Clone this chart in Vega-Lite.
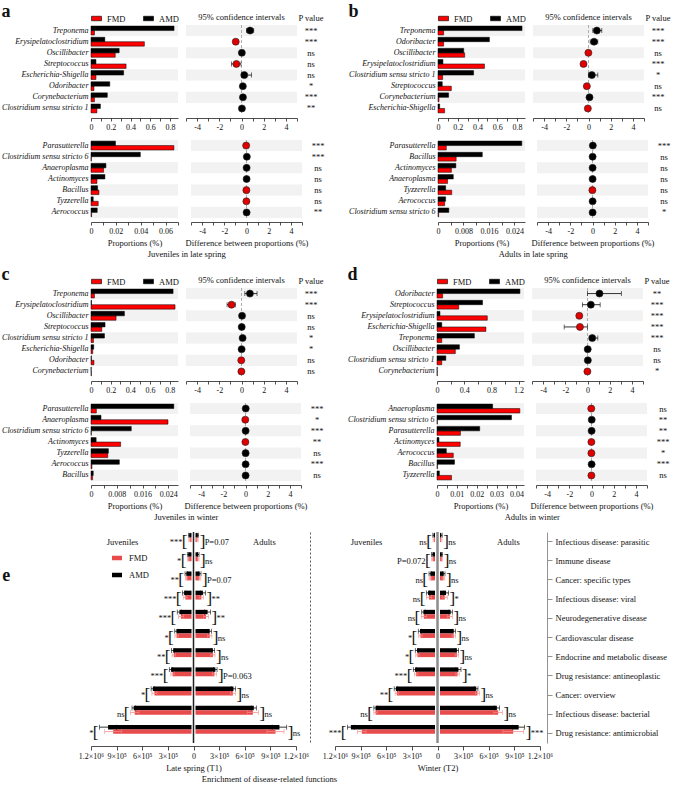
{
"$schema":"https://vega.github.io/schema/vega-lite/v6.json",
"padding":{"left":1,"top":3,"right":0,"bottom":0},
"background":"white",
"config":{
 "font":"Liberation Serif",
 "view":{"stroke":null},
 "axis":{"labelFont":"Liberation Serif","titleFont":"Liberation Serif","labelFontSize":8,"titleFontSize":8.5,"titleFontWeight":"normal","labelColor":"#111111","titleColor":"#111111","domainColor":"#222222","tickColor":"#222222","tickSize":3,"labelPadding":2,"titlePadding":3,"grid":false,"domainWidth":0.8,"tickWidth":0.8,"labelOverlap":false,"labelFlush":false},
 "legend":{"labelFont":"Liberation Serif","labelFontSize":8.5,"labelColor":"#111111"},
 "title":{"font":"Liberation Serif","fontSize":8.5,"fontWeight":"normal","color":"#111111"},
 "text":{"font":"Liberation Serif","color":"#111111"}
},
"datasets":{
"g":[
{"p":"a","s":"t","genus":"Treponema","FMD":0.035,"AMD":0.84,"d":0.77,"lo":0.46,"hi":1.1,"sig":"***"},
{"p":"a","s":"t","genus":"Erysipelatoclostridium","FMD":0.54,"AMD":0.14,"d":-0.52,"lo":-0.72,"hi":-0.35,"sig":"***"},
{"p":"a","s":"t","genus":"Oscillibacter","FMD":0.245,"AMD":0.285,"d":0.03,"sig":"ns"},
{"p":"a","s":"t","genus":"Streptococcus","FMD":0.355,"AMD":0.05,"d":-0.46,"lo":-0.9,"hi":-0.05,"sig":"ns"},
{"p":"a","s":"t","genus":"Escherichia-Shigella","FMD":0.05,"AMD":0.33,"d":0.25,"lo":0.0,"hi":0.9,"sig":"ns"},
{"p":"a","s":"t","genus":"Odoribacter","FMD":0.03,"AMD":0.19,"d":0.12,"sig":"*"},
{"p":"a","s":"t","genus":"Corynebacterium","FMD":0.035,"AMD":0.165,"d":0.13,"sig":"***"},
{"p":"a","s":"t","genus":"Clostridium sensu stricto 1","FMD":0.06,"AMD":0.095,"d":0.04,"sig":"**"},
{"p":"a","s":"b","genus":"Parasutterella","FMD":0.0667,"AMD":0.0197,"d":-0.03,"sig":"***"},
{"p":"a","s":"b","genus":"Clostridium sensu stricto 6","FMD":0.0003,"AMD":0.0397,"d":0.03,"sig":"***"},
{"p":"a","s":"b","genus":"Anaeroplasma","FMD":0.0101,"AMD":0.012,"d":0.01,"sig":"ns"},
{"p":"a","s":"b","genus":"Actinomyces","FMD":0.0048,"AMD":0.0112,"d":0.01,"sig":"ns"},
{"p":"a","s":"b","genus":"Bacillus","FMD":0.0064,"AMD":0.0053,"d":-0.01,"sig":"ns"},
{"p":"a","s":"b","genus":"Tyzzerella","FMD":0.0058,"AMD":0.0018,"d":-0.01,"sig":"ns"},
{"p":"a","s":"b","genus":"Aerococcus","FMD":0.0005,"AMD":0.005,"d":0.01,"sig":"**"},
{"p":"b","s":"t","genus":"Treponema","FMD":0.057,"AMD":0.85,"d":0.75,"lo":0.39,"hi":1.2,"sig":"***"},
{"p":"b","s":"t","genus":"Odoribacter","FMD":0.057,"AMD":0.52,"d":0.5,"lo":0.15,"hi":0.84,"sig":"***"},
{"p":"b","s":"t","genus":"Oscillibacter","FMD":0.27,"AMD":0.26,"d":-0.01,"sig":"ns"},
{"p":"b","s":"t","genus":"Erysipelatoclostridium","FMD":0.47,"AMD":0.05,"d":-0.45,"lo":-0.65,"hi":-0.24,"sig":"***"},
{"p":"b","s":"t","genus":"Clostridium sensu stricto 1","FMD":0.047,"AMD":0.36,"d":0.3,"lo":0.0,"hi":0.84,"sig":"*"},
{"p":"b","s":"t","genus":"Streptococcus","FMD":0.135,"AMD":0.043,"d":-0.15,"lo":-0.32,"hi":0.0,"sig":"ns"},
{"p":"b","s":"t","genus":"Corynebacterium","FMD":0.01,"AMD":0.107,"d":0.09,"sig":"***"},
{"p":"b","s":"t","genus":"Escherichia-Shigella","FMD":0.067,"AMD":0.017,"d":-0.06,"sig":"ns"},
{"p":"b","s":"b","genus":"Parasutterella","FMD":0.0026,"AMD":0.0263,"d":0.03,"sig":"***"},
{"p":"b","s":"b","genus":"Bacillus","FMD":0.0057,"AMD":0.0139,"d":0.01,"sig":"ns"},
{"p":"b","s":"b","genus":"Actinomyces","FMD":0.0042,"AMD":0.0056,"d":0.01,"sig":"ns"},
{"p":"b","s":"b","genus":"Anaeroplasma","FMD":0.003,"AMD":0.0048,"d":0.01,"sig":"ns"},
{"p":"b","s":"b","genus":"Tyzzerella","FMD":0.0043,"AMD":0.0024,"d":-0.01,"sig":"ns"},
{"p":"b","s":"b","genus":"Aerococcus","FMD":0.0021,"AMD":0.0024,"d":0.01,"sig":"ns"},
{"p":"b","s":"b","genus":"Clostridium sensu stricto 6","FMD":0.0002,"AMD":0.0034,"d":0.01,"sig":"*"},
{"p":"c","s":"t","genus":"Treponema","FMD":0.035,"AMD":0.835,"d":0.76,"lo":0.3,"hi":1.4,"sig":"***"},
{"p":"c","s":"t","genus":"Erysipelatoclostridium","FMD":0.855,"AMD":0.005,"d":-0.9,"lo":-1.3,"hi":-0.55,"sig":"***"},
{"p":"c","s":"t","genus":"Oscillibacter","FMD":0.255,"AMD":0.34,"d":0.05,"sig":"ns"},
{"p":"c","s":"t","genus":"Streptococcus","FMD":0.11,"AMD":0.143,"d":0.02,"sig":"ns"},
{"p":"c","s":"t","genus":"Clostridium sensu stricto 1","FMD":0.025,"AMD":0.137,"d":0.1,"sig":"*"},
{"p":"c","s":"t","genus":"Escherichia-Shigella","FMD":0.018,"AMD":0.028,"d":0.01,"sig":"*"},
{"p":"c","s":"t","genus":"Odoribacter","FMD":0.03,"AMD":0.004,"d":-0.02,"sig":"ns"},
{"p":"c","s":"t","genus":"Corynebacterium","FMD":0.004,"AMD":0.002,"d":-0.01,"sig":"ns"},
{"p":"c","s":"b","genus":"Parasutterella","FMD":0.00166,"AMD":0.0257,"d":0.02,"sig":"***"},
{"p":"c","s":"b","genus":"Anaeroplasma","FMD":0.0239,"AMD":0.0031,"d":-0.02,"sig":"*"},
{"p":"c","s":"b","genus":"Clostridium sensu stricto 6","FMD":0.0001,"AMD":0.0125,"d":0.01,"sig":"***"},
{"p":"c","s":"b","genus":"Actinomyces","FMD":0.0092,"AMD":0.0016,"d":-0.01,"sig":"**"},
{"p":"c","s":"b","genus":"Tyzzerella","FMD":0.0052,"AMD":0.0054,"d":0.01,"sig":"ns"},
{"p":"c","s":"b","genus":"Aerococcus","FMD":0.0003,"AMD":0.0088,"d":0.01,"sig":"***"},
{"p":"c","s":"b","genus":"Bacillus","FMD":0.0005,"AMD":0.0007,"d":0.01,"sig":"ns"},
{"p":"d","s":"t","genus":"Odoribacter","FMD":0.083,"AMD":1.22,"d":1.08,"lo":0.0,"hi":3.05,"sig":"**"},
{"p":"d","s":"t","genus":"Streptococcus","FMD":0.32,"AMD":0.67,"d":0.3,"lo":-0.46,"hi":1.14,"sig":"***"},
{"p":"d","s":"t","genus":"Erysipelatoclostridium","FMD":0.74,"AMD":0.044,"d":-0.74,"lo":-0.92,"hi":-0.58,"sig":"***"},
{"p":"d","s":"t","genus":"Escherichia-Shigella","FMD":0.72,"AMD":0.07,"d":-0.68,"lo":-2.1,"hi":0.0,"sig":"***"},
{"p":"d","s":"t","genus":"Treponema","FMD":0.07,"AMD":0.55,"d":0.43,"lo":0.16,"hi":0.93,"sig":"***"},
{"p":"d","s":"t","genus":"Oscillibacter","FMD":0.27,"AMD":0.33,"d":0.02,"sig":"ns"},
{"p":"d","s":"t","genus":"Clostridium sensu stricto 1","FMD":0.07,"AMD":0.13,"d":0.03,"sig":"ns"},
{"p":"d","s":"t","genus":"Corynebacterium","FMD":0.005,"AMD":0.003,"d":-0.01,"sig":"*"},
{"p":"d","s":"b","genus":"Anaeroplasma","FMD":0.0417,"AMD":0.028,"d":-0.02,"sig":"ns"},
{"p":"d","s":"b","genus":"Clostridium sensu stricto 6","FMD":0.0002,"AMD":0.0375,"d":0.02,"sig":"**"},
{"p":"d","s":"b","genus":"Parasutterella","FMD":0.0118,"AMD":0.0215,"d":0.01,"sig":"**"},
{"p":"d","s":"b","genus":"Actinomyces","FMD":0.0117,"AMD":0.001,"d":-0.01,"sig":"***"},
{"p":"d","s":"b","genus":"Aerococcus","FMD":0.0082,"AMD":0.0047,"d":-0.01,"sig":"*"},
{"p":"d","s":"b","genus":"Bacillus","FMD":0.0003,"AMD":0.0088,"d":0.01,"sig":"***"},
{"p":"d","s":"b","genus":"Tyzzerella","FMD":0.0073,"AMD":0.0012,"d":-0.01,"sig":"ns"}
],
"e":[
{"t":"T1","c":"Infectious disease: parasitic","s":"J","AMD":-50000,"FMD":-45000,"ea":10000,"ef":10000,"sig":"***"},
{"t":"T1","c":"Infectious disease: parasitic","s":"A","AMD":50000,"FMD":45000,"ea":10000,"ef":10000,"sig":"P=0.07"},
{"t":"T1","c":"Immune disease","s":"J","AMD":-62000,"FMD":-60000,"ea":10000,"ef":10000,"sig":"*"},
{"t":"T1","c":"Immune disease","s":"A","AMD":55000,"FMD":55000,"ea":10000,"ef":10000,"sig":"ns"},
{"t":"T1","c":"Cancer: specific types","s":"J","AMD":-84000,"FMD":-82000,"ea":15000,"ef":12000,"sig":"**"},
{"t":"T1","c":"Cancer: specific types","s":"A","AMD":73000,"FMD":70000,"ea":15000,"ef":15000,"sig":"P=0.07"},
{"t":"T1","c":"Infectious disease: viral","s":"J","AMD":-110000,"FMD":-95000,"ea":20000,"ef":20000,"sig":"***"},
{"t":"T1","c":"Infectious disease: viral","s":"A","AMD":110000,"FMD":92000,"ea":30000,"ef":25000,"sig":"**"},
{"t":"T1","c":"Neurodegenerative disease","s":"J","AMD":-165000,"FMD":-146000,"ea":25000,"ef":30000,"sig":"***"},
{"t":"T1","c":"Neurodegenerative disease","s":"A","AMD":165000,"FMD":146000,"ea":35000,"ef":30000,"sig":"**"},
{"t":"T1","c":"Cardiovascular disease","s":"J","AMD":-200000,"FMD":-198000,"ea":20000,"ef":20000,"sig":"*"},
{"t":"T1","c":"Cardiovascular disease","s":"A","AMD":190000,"FMD":190000,"ea":20000,"ef":25000,"sig":"ns"},
{"t":"T1","c":"Endocrine and metabolic disease","s":"J","AMD":-238000,"FMD":-230000,"ea":20000,"ef":20000,"sig":"**"},
{"t":"T1","c":"Endocrine and metabolic disease","s":"A","AMD":227000,"FMD":227000,"ea":20000,"ef":25000,"sig":"ns"},
{"t":"T1","c":"Drug resistance: antineoplastic","s":"J","AMD":-263000,"FMD":-245000,"ea":20000,"ef":20000,"sig":"***"},
{"t":"T1","c":"Drug resistance: antineoplastic","s":"A","AMD":256000,"FMD":245000,"ea":20000,"ef":25000,"sig":"P=0.063"},
{"t":"T1","c":"Cancer: overview","s":"J","AMD":-476000,"FMD":-457000,"ea":20000,"ef":30000,"sig":"*"},
{"t":"T1","c":"Cancer: overview","s":"A","AMD":468000,"FMD":461000,"ea":25000,"ef":30000,"sig":"ns"},
{"t":"T1","c":"Infectious disease: bacterial","s":"J","AMD":-700000,"FMD":-688000,"ea":20000,"ef":50000,"sig":"ns"},
{"t":"T1","c":"Infectious disease: bacterial","s":"A","AMD":706000,"FMD":695000,"ea":30000,"ef":65000,"sig":"ns"},
{"t":"T1","c":"Drug resistance: antimicrobial","s":"J","AMD":-1000000,"FMD":-940000,"ea":100000,"ef":100000,"sig":"*"},
{"t":"T1","c":"Drug resistance: antimicrobial","s":"A","AMD":1006000,"FMD":960000,"ea":85000,"ef":100000,"sig":"ns"},
{"t":"T2","c":"Infectious disease: parasitic","s":"J","AMD":-45000,"FMD":-42000,"ea":10000,"ef":10000,"sig":"ns"},
{"t":"T2","c":"Infectious disease: parasitic","s":"A","AMD":45000,"FMD":42000,"ea":10000,"ef":10000,"sig":"ns"},
{"t":"T2","c":"Immune disease","s":"J","AMD":-59000,"FMD":-58000,"ea":10000,"ef":10000,"sig":"P=0.072 "},
{"t":"T2","c":"Immune disease","s":"A","AMD":50000,"FMD":50000,"ea":10000,"ef":10000,"sig":"ns"},
{"t":"T2","c":"Cancer: specific types","s":"J","AMD":-84000,"FMD":-82000,"ea":15000,"ef":15000,"sig":"ns"},
{"t":"T2","c":"Cancer: specific types","s":"A","AMD":73000,"FMD":70000,"ea":15000,"ef":15000,"sig":"ns"},
{"t":"T2","c":"Infectious disease: viral","s":"J","AMD":-110000,"FMD":-100000,"ea":20000,"ef":30000,"sig":"ns"},
{"t":"T2","c":"Infectious disease: viral","s":"A","AMD":100000,"FMD":85000,"ea":30000,"ef":30000,"sig":"*"},
{"t":"T2","c":"Neurodegenerative disease","s":"J","AMD":-165000,"FMD":-160000,"ea":20000,"ef":30000,"sig":"ns"},
{"t":"T2","c":"Neurodegenerative disease","s":"A","AMD":154000,"FMD":145000,"ea":20000,"ef":30000,"sig":"ns"},
{"t":"T2","c":"Cardiovascular disease","s":"J","AMD":-205000,"FMD":-200000,"ea":20000,"ef":20000,"sig":"*"},
{"t":"T2","c":"Cardiovascular disease","s":"A","AMD":190000,"FMD":190000,"ea":20000,"ef":20000,"sig":"ns"},
{"t":"T2","c":"Endocrine and metabolic disease","s":"J","AMD":-240000,"FMD":-235000,"ea":20000,"ef":20000,"sig":"*"},
{"t":"T2","c":"Endocrine and metabolic disease","s":"A","AMD":227000,"FMD":227000,"ea":20000,"ef":20000,"sig":"ns"},
{"t":"T2","c":"Drug resistance: antineoplastic","s":"J","AMD":-263000,"FMD":-250000,"ea":20000,"ef":20000,"sig":"***"},
{"t":"T2","c":"Drug resistance: antineoplastic","s":"A","AMD":245000,"FMD":235000,"ea":30000,"ef":20000,"sig":"*"},
{"t":"T2","c":"Cancer: overview","s":"J","AMD":-487000,"FMD":-476000,"ea":20000,"ef":20000,"sig":"**"},
{"t":"T2","c":"Cancer: overview","s":"A","AMD":454000,"FMD":468000,"ea":20000,"ef":25000,"sig":"ns"},
{"t":"T2","c":"Infectious disease: bacterial","s":"J","AMD":-725000,"FMD":-725000,"ea":20000,"ef":20000,"sig":"ns"},
{"t":"T2","c":"Infectious disease: bacterial","s":"A","AMD":695000,"FMD":710000,"ea":30000,"ef":50000,"sig":"ns"},
{"t":"T2","c":"Drug resistance: antimicrobial","s":"J","AMD":-1014000,"FMD":-886000,"ea":40000,"ef":50000,"sig":"***"},
{"t":"T2","c":"Drug resistance: antimicrobial","s":"A","AMD":950000,"FMD":886000,"ea":70000,"ef":120000,"sig":"***"}
]
},
"resolve":{"scale":{"color":"independent"}},
"columns":1,
"spacing":8,
"concat":[
{"resolve":{"scale":{"color":"independent"}},"spacing":20,"hconcat":[
 {"resolve":{"scale":{"color":"independent"}},"spacing":8,"title":{"text":"Juveniles in late spring","orient":"bottom","anchor":"middle","offset":3,"dx":22},
  "vconcat":[
  {"resolve":{"scale":{"color":"independent"}},"spacing":6,"hconcat":[
   {"width":87,"height":89,"data":{"name":"g"},
    "transform":[{"filter":"datum.p=='a' && datum.s=='t'"},{"window":[{"op":"row_number","as":"rn"}]},{"fold":["FMD","AMD"],"as":["grp","val"]}],
    "title":{"text":"a","anchor":"start","frame":"bounds","fontSize":18,"fontWeight":"bold","offset":0,"dy":8},
    "layer":[
     {"mark":{"type":"rect"},"encoding":{
       "y":{"field":"genus","type":"nominal","sort":null,"scale":{"type":"band","paddingInner":0,"paddingOuter":0},"axis":{"title":null,"labelFontStyle":"italic","labelFontSize":8,"ticks":false,"domain":false,"labelPadding":3}},
       "x":{"datum":0,"type":"quantitative","scale":{"domain":[0,0.88],"nice":false},"axis":{"title":null,"values":[0,0.1,0.2,0.3,0.4,0.5,0.6,0.7,0.8],"tickCount":40,"labelExpr":"round(datum.value*10) % 2 == 0 ? (datum.value == 0 ? '0' : format(datum.value, '.1f')) : ''","offset":4,"labelOverlap":false,"labelFlush":false}},
       "x2":{"datum":0.88},
       "fill":{"condition":{"test":"datum.rn % 2 == 1","value":"#f2f2f2"},"value":"#ffffff"}}},
     {"mark":{"type":"bar","stroke":"#000000","strokeWidth":0.5},"encoding":{
       "y":{"field":"genus","type":"nominal","sort":null},
       "yOffset":{"field":"grp","type":"nominal","sort":["FMD","AMD"],"scale":{"paddingInner":0,"paddingOuter":0.25}},
       "x":{"field":"val","type":"quantitative","stack":null},
       "color":{"field":"grp","type":"nominal","scale":{"domain":["FMD","AMD"],"range":["#ff0000","#000000"]},"legend":{"orient":"top","direction":"horizontal","title":null,"symbolType":"M-1,-0.45H1V0.45H-1Z","symbolSize":100,"symbolStrokeColor":"#000000","symbolStrokeWidth":0.6,"labelFontSize":8.5,"columnPadding":16,"offset":2,"padding":0,"labelOffset":5}}}}
    ]},
   {"resolve":{"scale":{"color":"independent"}},"spacing":0,"hconcat":[
    {"width":111,"height":89,"data":{"name":"g"},
     "transform":[{"filter":"datum.p=='a' && datum.s=='t'"},{"window":[{"op":"row_number","as":"rn"}]}],
     "title":{"text":"95% confidence intervals","offset":3},
     "layer":[
      {"mark":{"type":"rect"},"encoding":{
        "y":{"field":"genus","type":"nominal","sort":null,"scale":{"type":"band","paddingInner":0,"paddingOuter":0},"axis":null},
        "x":{"datum":-5,"type":"quantitative","scale":{"domain":[-5,5],"nice":false},"axis":{"title":null,"values":[-5,-4,-3,-2,-1,0,1,2,3,4,5],"tickCount":40,"labelExpr":"datum.value % 2 == 0 ? '' + datum.value : ''","offset":4,"labelOverlap":false,"labelFlush":false}},
        "x2":{"datum":5},
        "fill":{"condition":{"test":"datum.rn % 2 == 1","value":"#f2f2f2"},"value":"#ffffff"}}},
      {"data":{"values":[{}]},"mark":{"type":"rule","color":"#9a9a9a","strokeDash":[3,2],"strokeWidth":0.8},"encoding":{"x":{"datum":0,"type":"quantitative"}}},
      {"mark":{"type":"rule","color":"#000000","strokeWidth":0.8},"encoding":{"y":{"field":"genus","type":"nominal","sort":null},"x":{"field":"lo","type":"quantitative"},"x2":{"field":"hi"}}},
      {"mark":{"type":"tick","color":"#000000","thickness":0.8,"size":5},"encoding":{"y":{"field":"genus","type":"nominal","sort":null},"x":{"field":"lo","type":"quantitative"}}},
      {"mark":{"type":"tick","color":"#000000","thickness":0.8,"size":5},"encoding":{"y":{"field":"genus","type":"nominal","sort":null},"x":{"field":"hi","type":"quantitative"}}},
      {"mark":{"type":"point","filled":true,"size":50,"stroke":"#222222","strokeWidth":0.6,"opacity":1},"encoding":{"y":{"field":"genus","type":"nominal","sort":null},"x":{"field":"d","type":"quantitative"},"fill":{"condition":{"test":"datum.d > 0","value":"#000000"},"value":"#e00000"}}}
     ]},
    {"width":20,"height":89,"data":{"name":"g"},"transform":[{"filter":"datum.p=='a' && datum.s=='t'"}],
     "title":{"text":"P value","offset":3},
     "mark":{"type":"text","fontSize":8.5},
     "encoding":{"y":{"field":"genus","type":"nominal","sort":null,"scale":{"type":"band","paddingInner":0,"paddingOuter":0},"axis":null},"text":{"field":"sig"}}}
   ]}
  ]},
  {"resolve":{"scale":{"color":"independent"}},"spacing":6,"hconcat":[
   {"width":87,"height":78,"data":{"name":"g"},
    "transform":[{"filter":"datum.p=='a' && datum.s=='b'"},{"window":[{"op":"row_number","as":"rn"}]},{"fold":["FMD","AMD"],"as":["grp","val"]}],
    "layer":[
     {"mark":{"type":"rect"},"encoding":{
       "y":{"field":"genus","type":"nominal","sort":null,"scale":{"type":"band","paddingInner":0,"paddingOuter":0},"axis":{"title":null,"labelFontStyle":"italic","labelFontSize":8,"ticks":false,"domain":false,"labelPadding":3}},
       "x":{"datum":0,"type":"quantitative","scale":{"domain":[0,0.07],"nice":false},"axis":{"title":"Proportions (%)","values":[0,0.01,0.02,0.03,0.04,0.05,0.06,0.07],"tickCount":40,"labelExpr":"round(datum.value*100) % 2 == 0 ? (datum.value == 0 ? '0' : format(datum.value, '.2f')) : ''","offset":4,"labelOverlap":false,"labelFlush":false}},
       "x2":{"datum":0.07},
       "fill":{"condition":{"test":"datum.rn % 2 == 1","value":"#f2f2f2"},"value":"#ffffff"}}},
     {"mark":{"type":"bar","stroke":"#000000","strokeWidth":0.5},"encoding":{
       "y":{"field":"genus","type":"nominal","sort":null},
       "yOffset":{"field":"grp","type":"nominal","sort":["FMD","AMD"],"scale":{"paddingInner":0,"paddingOuter":0.25}},
       "x":{"field":"val","type":"quantitative","stack":null},
       "color":{"condition":{"test":"datum.grp=='FMD'","value":"#ff0000"},"value":"#000000"}}}
    ]},
   {"resolve":{"scale":{"color":"independent"}},"spacing":0,"hconcat":[
    {"width":111,"height":78,"data":{"name":"g"},
     "transform":[{"filter":"datum.p=='a' && datum.s=='b'"},{"window":[{"op":"row_number","as":"rn"}]}],
     "layer":[
      {"mark":{"type":"rect"},"encoding":{
        "y":{"field":"genus","type":"nominal","sort":null,"scale":{"type":"band","paddingInner":0,"paddingOuter":0},"axis":null},
        "x":{"datum":-5,"type":"quantitative","scale":{"domain":[-5,5],"nice":false},"axis":{"title":"Difference between proportions (%)","values":[-5,-4,-3,-2,-1,0,1,2,3,4,5],"tickCount":40,"labelExpr":"datum.value % 2 == 0 ? '' + datum.value : ''","offset":4,"labelOverlap":false,"labelFlush":false}},
        "x2":{"datum":5},
        "fill":{"condition":{"test":"datum.rn % 2 == 1","value":"#f2f2f2"},"value":"#ffffff"}}},
      {"data":{"values":[{}]},"mark":{"type":"rule","color":"#9a9a9a","strokeDash":[3,2],"strokeWidth":0.8},"encoding":{"x":{"datum":0,"type":"quantitative"}}},
      {"mark":{"type":"point","filled":true,"size":50,"stroke":"#222222","strokeWidth":0.6,"opacity":1},"encoding":{"y":{"field":"genus","type":"nominal","sort":null},"x":{"field":"d","type":"quantitative"},"fill":{"condition":{"test":"datum.d > 0","value":"#000000"},"value":"#e00000"}}}
     ]},
    {"width":20,"height":78,"data":{"name":"g"},"transform":[{"filter":"datum.p=='a' && datum.s=='b'"}],
     "mark":{"type":"text","fontSize":8.5},
     "encoding":{"y":{"field":"genus","type":"nominal","sort":null,"scale":{"type":"band","paddingInner":0,"paddingOuter":0},"axis":null},"text":{"field":"sig"}}}
   ]}
  ]}
 ]},
 {"resolve":{"scale":{"color":"independent"}},"spacing":8,"title":{"text":"Adults in late spring","orient":"bottom","anchor":"middle","offset":3,"dx":22},
  "vconcat":[
  {"resolve":{"scale":{"color":"independent"}},"spacing":6,"hconcat":[
   {"width":87,"height":89,"data":{"name":"g"},
    "transform":[{"filter":"datum.p=='b' && datum.s=='t'"},{"window":[{"op":"row_number","as":"rn"}]},{"fold":["FMD","AMD"],"as":["grp","val"]}],
    "title":{"text":"b","anchor":"start","frame":"bounds","fontSize":18,"fontWeight":"bold","offset":0,"dy":8},
    "layer":[
     {"mark":{"type":"rect"},"encoding":{
       "y":{"field":"genus","type":"nominal","sort":null,"scale":{"type":"band","paddingInner":0,"paddingOuter":0},"axis":{"title":null,"labelFontStyle":"italic","labelFontSize":8,"ticks":false,"domain":false,"labelPadding":3}},
       "x":{"datum":0,"type":"quantitative","scale":{"domain":[0,0.88],"nice":false},"axis":{"title":null,"values":[0,0.1,0.2,0.3,0.4,0.5,0.6,0.7,0.8],"tickCount":40,"labelExpr":"round(datum.value*10) % 2 == 0 ? (datum.value == 0 ? '0' : format(datum.value, '.1f')) : ''","offset":4,"labelOverlap":false,"labelFlush":false}},
       "x2":{"datum":0.88},
       "fill":{"condition":{"test":"datum.rn % 2 == 1","value":"#f2f2f2"},"value":"#ffffff"}}},
     {"mark":{"type":"bar","stroke":"#000000","strokeWidth":0.5},"encoding":{
       "y":{"field":"genus","type":"nominal","sort":null},
       "yOffset":{"field":"grp","type":"nominal","sort":["FMD","AMD"],"scale":{"paddingInner":0,"paddingOuter":0.25}},
       "x":{"field":"val","type":"quantitative","stack":null},
       "color":{"field":"grp","type":"nominal","scale":{"domain":["FMD","AMD"],"range":["#ff0000","#000000"]},"legend":{"orient":"top","direction":"horizontal","title":null,"symbolType":"M-1,-0.45H1V0.45H-1Z","symbolSize":100,"symbolStrokeColor":"#000000","symbolStrokeWidth":0.6,"labelFontSize":8.5,"columnPadding":16,"offset":2,"padding":0,"labelOffset":5}}}}
    ]},
   {"resolve":{"scale":{"color":"independent"}},"spacing":0,"hconcat":[
    {"width":111,"height":89,"data":{"name":"g"},
     "transform":[{"filter":"datum.p=='b' && datum.s=='t'"},{"window":[{"op":"row_number","as":"rn"}]}],
     "title":{"text":"95% confidence intervals","offset":3},
     "layer":[
      {"mark":{"type":"rect"},"encoding":{
        "y":{"field":"genus","type":"nominal","sort":null,"scale":{"type":"band","paddingInner":0,"paddingOuter":0},"axis":null},
        "x":{"datum":-5,"type":"quantitative","scale":{"domain":[-5,5],"nice":false},"axis":{"title":null,"values":[-5,-4,-3,-2,-1,0,1,2,3,4,5],"tickCount":40,"labelExpr":"datum.value % 2 == 0 ? '' + datum.value : ''","offset":4,"labelOverlap":false,"labelFlush":false}},
        "x2":{"datum":5},
        "fill":{"condition":{"test":"datum.rn % 2 == 1","value":"#f2f2f2"},"value":"#ffffff"}}},
      {"data":{"values":[{}]},"mark":{"type":"rule","color":"#9a9a9a","strokeDash":[3,2],"strokeWidth":0.8},"encoding":{"x":{"datum":0,"type":"quantitative"}}},
      {"mark":{"type":"rule","color":"#000000","strokeWidth":0.8},"encoding":{"y":{"field":"genus","type":"nominal","sort":null},"x":{"field":"lo","type":"quantitative"},"x2":{"field":"hi"}}},
      {"mark":{"type":"tick","color":"#000000","thickness":0.8,"size":5},"encoding":{"y":{"field":"genus","type":"nominal","sort":null},"x":{"field":"lo","type":"quantitative"}}},
      {"mark":{"type":"tick","color":"#000000","thickness":0.8,"size":5},"encoding":{"y":{"field":"genus","type":"nominal","sort":null},"x":{"field":"hi","type":"quantitative"}}},
      {"mark":{"type":"point","filled":true,"size":50,"stroke":"#222222","strokeWidth":0.6,"opacity":1},"encoding":{"y":{"field":"genus","type":"nominal","sort":null},"x":{"field":"d","type":"quantitative"},"fill":{"condition":{"test":"datum.d > 0","value":"#000000"},"value":"#e00000"}}}
     ]},
    {"width":20,"height":89,"data":{"name":"g"},"transform":[{"filter":"datum.p=='b' && datum.s=='t'"}],
     "title":{"text":"P value","offset":3},
     "mark":{"type":"text","fontSize":8.5},
     "encoding":{"y":{"field":"genus","type":"nominal","sort":null,"scale":{"type":"band","paddingInner":0,"paddingOuter":0},"axis":null},"text":{"field":"sig"}}}
   ]}
  ]},
  {"resolve":{"scale":{"color":"independent"}},"spacing":6,"hconcat":[
   {"width":87,"height":78,"data":{"name":"g"},
    "transform":[{"filter":"datum.p=='b' && datum.s=='b'"},{"window":[{"op":"row_number","as":"rn"}]},{"fold":["FMD","AMD"],"as":["grp","val"]}],
    "layer":[
     {"mark":{"type":"rect"},"encoding":{
       "y":{"field":"genus","type":"nominal","sort":null,"scale":{"type":"band","paddingInner":0,"paddingOuter":0},"axis":{"title":null,"labelFontStyle":"italic","labelFontSize":8,"ticks":false,"domain":false,"labelPadding":3}},
       "x":{"datum":0,"type":"quantitative","scale":{"domain":[0,0.0273],"nice":false},"axis":{"title":"Proportions (%)","values":[0,0.004,0.008,0.012,0.016,0.02,0.024],"tickCount":40,"labelExpr":"round(datum.value*1000) % 8 == 0 ? (datum.value == 0 ? '0' : format(datum.value, '.3f')) : ''","offset":4,"labelOverlap":false,"labelFlush":false}},
       "x2":{"datum":0.0273},
       "fill":{"condition":{"test":"datum.rn % 2 == 1","value":"#f2f2f2"},"value":"#ffffff"}}},
     {"mark":{"type":"bar","stroke":"#000000","strokeWidth":0.5},"encoding":{
       "y":{"field":"genus","type":"nominal","sort":null},
       "yOffset":{"field":"grp","type":"nominal","sort":["FMD","AMD"],"scale":{"paddingInner":0,"paddingOuter":0.25}},
       "x":{"field":"val","type":"quantitative","stack":null},
       "color":{"condition":{"test":"datum.grp=='FMD'","value":"#ff0000"},"value":"#000000"}}}
    ]},
   {"resolve":{"scale":{"color":"independent"}},"spacing":0,"hconcat":[
    {"width":111,"height":78,"data":{"name":"g"},
     "transform":[{"filter":"datum.p=='b' && datum.s=='b'"},{"window":[{"op":"row_number","as":"rn"}]}],
     "layer":[
      {"mark":{"type":"rect"},"encoding":{
        "y":{"field":"genus","type":"nominal","sort":null,"scale":{"type":"band","paddingInner":0,"paddingOuter":0},"axis":null},
        "x":{"datum":-5,"type":"quantitative","scale":{"domain":[-5,5],"nice":false},"axis":{"title":"Difference between proportions (%)","values":[-5,-4,-3,-2,-1,0,1,2,3,4,5],"tickCount":40,"labelExpr":"datum.value % 2 == 0 ? '' + datum.value : ''","offset":4,"labelOverlap":false,"labelFlush":false}},
        "x2":{"datum":5},
        "fill":{"condition":{"test":"datum.rn % 2 == 1","value":"#f2f2f2"},"value":"#ffffff"}}},
      {"data":{"values":[{}]},"mark":{"type":"rule","color":"#9a9a9a","strokeDash":[3,2],"strokeWidth":0.8},"encoding":{"x":{"datum":0,"type":"quantitative"}}},
      {"mark":{"type":"point","filled":true,"size":50,"stroke":"#222222","strokeWidth":0.6,"opacity":1},"encoding":{"y":{"field":"genus","type":"nominal","sort":null},"x":{"field":"d","type":"quantitative"},"fill":{"condition":{"test":"datum.d > 0","value":"#000000"},"value":"#e00000"}}}
     ]},
    {"width":20,"height":78,"data":{"name":"g"},"transform":[{"filter":"datum.p=='b' && datum.s=='b'"}],
     "mark":{"type":"text","fontSize":8.5},
     "encoding":{"y":{"field":"genus","type":"nominal","sort":null,"scale":{"type":"band","paddingInner":0,"paddingOuter":0},"axis":null},"text":{"field":"sig"}}}
   ]}
  ]}
 ]}
]},
{"resolve":{"scale":{"color":"independent"}},"spacing":20,"hconcat":[
 {"resolve":{"scale":{"color":"independent"}},"spacing":8,"title":{"text":"Juveniles in winter","orient":"bottom","anchor":"middle","offset":3,"dx":22},
  "vconcat":[
  {"resolve":{"scale":{"color":"independent"}},"spacing":6,"hconcat":[
   {"width":87,"height":89,"data":{"name":"g"},
    "transform":[{"filter":"datum.p=='c' && datum.s=='t'"},{"window":[{"op":"row_number","as":"rn"}]},{"fold":["FMD","AMD"],"as":["grp","val"]}],
    "title":{"text":"c","anchor":"start","frame":"bounds","fontSize":18,"fontWeight":"bold","offset":0,"dy":8},
    "layer":[
     {"mark":{"type":"rect"},"encoding":{
       "y":{"field":"genus","type":"nominal","sort":null,"scale":{"type":"band","paddingInner":0,"paddingOuter":0},"axis":{"title":null,"labelFontStyle":"italic","labelFontSize":8,"ticks":false,"domain":false,"labelPadding":3}},
       "x":{"datum":0,"type":"quantitative","scale":{"domain":[0,0.885],"nice":false},"axis":{"title":null,"values":[0,0.1,0.2,0.3,0.4,0.5,0.6,0.7,0.8],"tickCount":40,"labelExpr":"round(datum.value*10) % 2 == 0 ? (datum.value == 0 ? '0' : format(datum.value, '.1f')) : ''","offset":4,"labelOverlap":false,"labelFlush":false}},
       "x2":{"datum":0.885},
       "fill":{"condition":{"test":"datum.rn % 2 == 1","value":"#f2f2f2"},"value":"#ffffff"}}},
     {"mark":{"type":"bar","stroke":"#000000","strokeWidth":0.5},"encoding":{
       "y":{"field":"genus","type":"nominal","sort":null},
       "yOffset":{"field":"grp","type":"nominal","sort":["FMD","AMD"],"scale":{"paddingInner":0,"paddingOuter":0.25}},
       "x":{"field":"val","type":"quantitative","stack":null},
       "color":{"field":"grp","type":"nominal","scale":{"domain":["FMD","AMD"],"range":["#ff0000","#000000"]},"legend":{"orient":"top","direction":"horizontal","title":null,"symbolType":"M-1,-0.45H1V0.45H-1Z","symbolSize":100,"symbolStrokeColor":"#000000","symbolStrokeWidth":0.6,"labelFontSize":8.5,"columnPadding":16,"offset":2,"padding":0,"labelOffset":5}}}}
    ]},
   {"resolve":{"scale":{"color":"independent"}},"spacing":0,"hconcat":[
    {"width":111,"height":89,"data":{"name":"g"},
     "transform":[{"filter":"datum.p=='c' && datum.s=='t'"},{"window":[{"op":"row_number","as":"rn"}]}],
     "title":{"text":"95% confidence intervals","offset":3},
     "layer":[
      {"mark":{"type":"rect"},"encoding":{
        "y":{"field":"genus","type":"nominal","sort":null,"scale":{"type":"band","paddingInner":0,"paddingOuter":0},"axis":null},
        "x":{"datum":-5,"type":"quantitative","scale":{"domain":[-5,5],"nice":false},"axis":{"title":null,"values":[-5,-4,-3,-2,-1,0,1,2,3,4,5],"tickCount":40,"labelExpr":"datum.value % 2 == 0 ? '' + datum.value : ''","offset":4,"labelOverlap":false,"labelFlush":false}},
        "x2":{"datum":5},
        "fill":{"condition":{"test":"datum.rn % 2 == 1","value":"#f2f2f2"},"value":"#ffffff"}}},
      {"data":{"values":[{}]},"mark":{"type":"rule","color":"#9a9a9a","strokeDash":[3,2],"strokeWidth":0.8},"encoding":{"x":{"datum":0,"type":"quantitative"}}},
      {"mark":{"type":"rule","color":"#000000","strokeWidth":0.8},"encoding":{"y":{"field":"genus","type":"nominal","sort":null},"x":{"field":"lo","type":"quantitative"},"x2":{"field":"hi"}}},
      {"mark":{"type":"tick","color":"#000000","thickness":0.8,"size":5},"encoding":{"y":{"field":"genus","type":"nominal","sort":null},"x":{"field":"lo","type":"quantitative"}}},
      {"mark":{"type":"tick","color":"#000000","thickness":0.8,"size":5},"encoding":{"y":{"field":"genus","type":"nominal","sort":null},"x":{"field":"hi","type":"quantitative"}}},
      {"mark":{"type":"point","filled":true,"size":50,"stroke":"#222222","strokeWidth":0.6,"opacity":1},"encoding":{"y":{"field":"genus","type":"nominal","sort":null},"x":{"field":"d","type":"quantitative"},"fill":{"condition":{"test":"datum.d > 0","value":"#000000"},"value":"#e00000"}}}
     ]},
    {"width":20,"height":89,"data":{"name":"g"},"transform":[{"filter":"datum.p=='c' && datum.s=='t'"}],
     "title":{"text":"P value","offset":3},
     "mark":{"type":"text","fontSize":8.5},
     "encoding":{"y":{"field":"genus","type":"nominal","sort":null,"scale":{"type":"band","paddingInner":0,"paddingOuter":0},"axis":null},"text":{"field":"sig"}}}
   ]}
  ]},
  {"resolve":{"scale":{"color":"independent"}},"spacing":6,"hconcat":[
   {"width":87,"height":78,"data":{"name":"g"},
    "transform":[{"filter":"datum.p=='c' && datum.s=='b'"},{"window":[{"op":"row_number","as":"rn"}]},{"fold":["FMD","AMD"],"as":["grp","val"]}],
    "layer":[
     {"mark":{"type":"rect"},"encoding":{
       "y":{"field":"genus","type":"nominal","sort":null,"scale":{"type":"band","paddingInner":0,"paddingOuter":0},"axis":{"title":null,"labelFontStyle":"italic","labelFontSize":8,"ticks":false,"domain":false,"labelPadding":3}},
       "x":{"datum":0,"type":"quantitative","scale":{"domain":[0,0.027],"nice":false},"axis":{"title":"Proportions (%)","values":[0,0.004,0.008,0.012,0.016,0.02,0.024],"tickCount":40,"labelExpr":"round(datum.value*1000) % 8 == 0 ? (datum.value == 0 ? '0' : format(datum.value, '.3f')) : ''","offset":4,"labelOverlap":false,"labelFlush":false}},
       "x2":{"datum":0.027},
       "fill":{"condition":{"test":"datum.rn % 2 == 1","value":"#f2f2f2"},"value":"#ffffff"}}},
     {"mark":{"type":"bar","stroke":"#000000","strokeWidth":0.5},"encoding":{
       "y":{"field":"genus","type":"nominal","sort":null},
       "yOffset":{"field":"grp","type":"nominal","sort":["FMD","AMD"],"scale":{"paddingInner":0,"paddingOuter":0.25}},
       "x":{"field":"val","type":"quantitative","stack":null},
       "color":{"condition":{"test":"datum.grp=='FMD'","value":"#ff0000"},"value":"#000000"}}}
    ]},
   {"resolve":{"scale":{"color":"independent"}},"spacing":0,"hconcat":[
    {"width":111,"height":78,"data":{"name":"g"},
     "transform":[{"filter":"datum.p=='c' && datum.s=='b'"},{"window":[{"op":"row_number","as":"rn"}]}],
     "layer":[
      {"mark":{"type":"rect"},"encoding":{
        "y":{"field":"genus","type":"nominal","sort":null,"scale":{"type":"band","paddingInner":0,"paddingOuter":0},"axis":null},
        "x":{"datum":-5,"type":"quantitative","scale":{"domain":[-5,5],"nice":false},"axis":{"title":"Difference between proportions (%)","values":[-5,-4,-3,-2,-1,0,1,2,3,4,5],"tickCount":40,"labelExpr":"datum.value % 2 == 0 ? '' + datum.value : ''","offset":4,"labelOverlap":false,"labelFlush":false}},
        "x2":{"datum":5},
        "fill":{"condition":{"test":"datum.rn % 2 == 1","value":"#f2f2f2"},"value":"#ffffff"}}},
      {"data":{"values":[{}]},"mark":{"type":"rule","color":"#9a9a9a","strokeDash":[3,2],"strokeWidth":0.8},"encoding":{"x":{"datum":0,"type":"quantitative"}}},
      {"mark":{"type":"point","filled":true,"size":50,"stroke":"#222222","strokeWidth":0.6,"opacity":1},"encoding":{"y":{"field":"genus","type":"nominal","sort":null},"x":{"field":"d","type":"quantitative"},"fill":{"condition":{"test":"datum.d > 0","value":"#000000"},"value":"#e00000"}}}
     ]},
    {"width":20,"height":78,"data":{"name":"g"},"transform":[{"filter":"datum.p=='c' && datum.s=='b'"}],
     "mark":{"type":"text","fontSize":8.5},
     "encoding":{"y":{"field":"genus","type":"nominal","sort":null,"scale":{"type":"band","paddingInner":0,"paddingOuter":0},"axis":null},"text":{"field":"sig"}}}
   ]}
  ]}
 ]},
 {"resolve":{"scale":{"color":"independent"}},"spacing":8,"title":{"text":"Adults in winter","orient":"bottom","anchor":"middle","offset":3,"dx":22},
  "vconcat":[
  {"resolve":{"scale":{"color":"independent"}},"spacing":6,"hconcat":[
   {"width":87,"height":89,"data":{"name":"g"},
    "transform":[{"filter":"datum.p=='d' && datum.s=='t'"},{"window":[{"op":"row_number","as":"rn"}]},{"fold":["FMD","AMD"],"as":["grp","val"]}],
    "title":{"text":"d","anchor":"start","frame":"bounds","fontSize":18,"fontWeight":"bold","offset":0,"dy":8},
    "layer":[
     {"mark":{"type":"rect"},"encoding":{
       "y":{"field":"genus","type":"nominal","sort":null,"scale":{"type":"band","paddingInner":0,"paddingOuter":0},"axis":{"title":null,"labelFontStyle":"italic","labelFontSize":8,"ticks":false,"domain":false,"labelPadding":3}},
       "x":{"datum":0,"type":"quantitative","scale":{"domain":[0,1.28],"nice":false},"axis":{"title":null,"values":[0,0.2,0.4,0.6,0.8,1.0,1.2],"tickCount":40,"labelExpr":"round(datum.value*10) % 4 == 0 ? (datum.value == 0 ? '0' : format(datum.value, '.1f')) : ''","offset":4,"labelOverlap":false,"labelFlush":false}},
       "x2":{"datum":1.28},
       "fill":{"condition":{"test":"datum.rn % 2 == 1","value":"#f2f2f2"},"value":"#ffffff"}}},
     {"mark":{"type":"bar","stroke":"#000000","strokeWidth":0.5},"encoding":{
       "y":{"field":"genus","type":"nominal","sort":null},
       "yOffset":{"field":"grp","type":"nominal","sort":["FMD","AMD"],"scale":{"paddingInner":0,"paddingOuter":0.25}},
       "x":{"field":"val","type":"quantitative","stack":null},
       "color":{"field":"grp","type":"nominal","scale":{"domain":["FMD","AMD"],"range":["#ff0000","#000000"]},"legend":{"orient":"top","direction":"horizontal","title":null,"symbolType":"M-1,-0.45H1V0.45H-1Z","symbolSize":100,"symbolStrokeColor":"#000000","symbolStrokeWidth":0.6,"labelFontSize":8.5,"columnPadding":16,"offset":2,"padding":0,"labelOffset":5}}}}
    ]},
   {"resolve":{"scale":{"color":"independent"}},"spacing":0,"hconcat":[
    {"width":111,"height":89,"data":{"name":"g"},
     "transform":[{"filter":"datum.p=='d' && datum.s=='t'"},{"window":[{"op":"row_number","as":"rn"}]}],
     "title":{"text":"95% confidence intervals","offset":3},
     "layer":[
      {"mark":{"type":"rect"},"encoding":{
        "y":{"field":"genus","type":"nominal","sort":null,"scale":{"type":"band","paddingInner":0,"paddingOuter":0},"axis":null},
        "x":{"datum":-5,"type":"quantitative","scale":{"domain":[-5,5],"nice":false},"axis":{"title":null,"values":[-5,-4,-3,-2,-1,0,1,2,3,4,5],"tickCount":40,"labelExpr":"datum.value % 2 == 0 ? '' + datum.value : ''","offset":4,"labelOverlap":false,"labelFlush":false}},
        "x2":{"datum":5},
        "fill":{"condition":{"test":"datum.rn % 2 == 1","value":"#f2f2f2"},"value":"#ffffff"}}},
      {"data":{"values":[{}]},"mark":{"type":"rule","color":"#9a9a9a","strokeDash":[3,2],"strokeWidth":0.8},"encoding":{"x":{"datum":0,"type":"quantitative"}}},
      {"mark":{"type":"rule","color":"#000000","strokeWidth":0.8},"encoding":{"y":{"field":"genus","type":"nominal","sort":null},"x":{"field":"lo","type":"quantitative"},"x2":{"field":"hi"}}},
      {"mark":{"type":"tick","color":"#000000","thickness":0.8,"size":5},"encoding":{"y":{"field":"genus","type":"nominal","sort":null},"x":{"field":"lo","type":"quantitative"}}},
      {"mark":{"type":"tick","color":"#000000","thickness":0.8,"size":5},"encoding":{"y":{"field":"genus","type":"nominal","sort":null},"x":{"field":"hi","type":"quantitative"}}},
      {"mark":{"type":"point","filled":true,"size":50,"stroke":"#222222","strokeWidth":0.6,"opacity":1},"encoding":{"y":{"field":"genus","type":"nominal","sort":null},"x":{"field":"d","type":"quantitative"},"fill":{"condition":{"test":"datum.d > 0","value":"#000000"},"value":"#e00000"}}}
     ]},
    {"width":20,"height":89,"data":{"name":"g"},"transform":[{"filter":"datum.p=='d' && datum.s=='t'"}],
     "title":{"text":"P value","offset":3},
     "mark":{"type":"text","fontSize":8.5},
     "encoding":{"y":{"field":"genus","type":"nominal","sort":null,"scale":{"type":"band","paddingInner":0,"paddingOuter":0},"axis":null},"text":{"field":"sig"}}}
   ]}
  ]},
  {"resolve":{"scale":{"color":"independent"}},"spacing":6,"hconcat":[
   {"width":87,"height":78,"data":{"name":"g"},
    "transform":[{"filter":"datum.p=='d' && datum.s=='b'"},{"window":[{"op":"row_number","as":"rn"}]},{"fold":["FMD","AMD"],"as":["grp","val"]}],
    "layer":[
     {"mark":{"type":"rect"},"encoding":{
       "y":{"field":"genus","type":"nominal","sort":null,"scale":{"type":"band","paddingInner":0,"paddingOuter":0},"axis":{"title":null,"labelFontStyle":"italic","labelFontSize":8,"ticks":false,"domain":false,"labelPadding":3}},
       "x":{"datum":0,"type":"quantitative","scale":{"domain":[0,0.0438],"nice":false},"axis":{"title":"Proportions (%)","values":[0,0.005,0.01,0.015,0.02,0.025,0.03,0.035,0.04],"tickCount":40,"labelExpr":"round(datum.value*1000) % 10 == 0 ? (datum.value == 0 ? '0' : format(datum.value, '.2f')) : ''","offset":4,"labelOverlap":false,"labelFlush":false}},
       "x2":{"datum":0.0438},
       "fill":{"condition":{"test":"datum.rn % 2 == 1","value":"#f2f2f2"},"value":"#ffffff"}}},
     {"mark":{"type":"bar","stroke":"#000000","strokeWidth":0.5},"encoding":{
       "y":{"field":"genus","type":"nominal","sort":null},
       "yOffset":{"field":"grp","type":"nominal","sort":["FMD","AMD"],"scale":{"paddingInner":0,"paddingOuter":0.25}},
       "x":{"field":"val","type":"quantitative","stack":null},
       "color":{"condition":{"test":"datum.grp=='FMD'","value":"#ff0000"},"value":"#000000"}}}
    ]},
   {"resolve":{"scale":{"color":"independent"}},"spacing":0,"hconcat":[
    {"width":111,"height":78,"data":{"name":"g"},
     "transform":[{"filter":"datum.p=='d' && datum.s=='b'"},{"window":[{"op":"row_number","as":"rn"}]}],
     "layer":[
      {"mark":{"type":"rect"},"encoding":{
        "y":{"field":"genus","type":"nominal","sort":null,"scale":{"type":"band","paddingInner":0,"paddingOuter":0},"axis":null},
        "x":{"datum":-5,"type":"quantitative","scale":{"domain":[-5,5],"nice":false},"axis":{"title":"Difference between proportions (%)","values":[-5,-4,-3,-2,-1,0,1,2,3,4,5],"tickCount":40,"labelExpr":"datum.value % 2 == 0 ? '' + datum.value : ''","offset":4,"labelOverlap":false,"labelFlush":false}},
        "x2":{"datum":5},
        "fill":{"condition":{"test":"datum.rn % 2 == 1","value":"#f2f2f2"},"value":"#ffffff"}}},
      {"data":{"values":[{}]},"mark":{"type":"rule","color":"#9a9a9a","strokeDash":[3,2],"strokeWidth":0.8},"encoding":{"x":{"datum":0,"type":"quantitative"}}},
      {"mark":{"type":"point","filled":true,"size":50,"stroke":"#222222","strokeWidth":0.6,"opacity":1},"encoding":{"y":{"field":"genus","type":"nominal","sort":null},"x":{"field":"d","type":"quantitative"},"fill":{"condition":{"test":"datum.d > 0","value":"#000000"},"value":"#e00000"}}}
     ]},
    {"width":20,"height":78,"data":{"name":"g"},"transform":[{"filter":"datum.p=='d' && datum.s=='b'"}],
     "mark":{"type":"text","fontSize":8.5},
     "encoding":{"y":{"field":"genus","type":"nominal","sort":null,"scale":{"type":"band","paddingInner":0,"paddingOuter":0},"axis":null},"text":{"field":"sig"}}}
   ]}
  ]}
 ]}
]},
{"resolve":{"scale":{"color":"independent"}},"spacing":12,
 "title":{"text":"Enrichment of disease-related functions","orient":"bottom","anchor":"middle","offset":3,"dx":-65},
 "hconcat":[
 {"width":205,"height":211,"data":{"name":"e"},
  "transform":[
   {"filter":"datum.t=='T1'"},
   {"fold":["AMD","FMD"],"as":["g","v"]},
   {"calculate":"datum.g=='AMD' ? datum.ea : datum.ef","as":"err"},
   {"calculate":"datum.v - datum.err","as":"lo"},
   {"calculate":"datum.v + datum.err","as":"hi"},
   {"calculate":"abs(datum.v) + datum.err","as":"ae"},
   {"joinaggregate":[{"op":"max","field":"ae","as":"ext"}],"groupby":["c","s"]},
   {"calculate":"datum.s=='J' ? -datum.ext : datum.ext","as":"bx"}
  ],
  "title":{"text":"e","anchor":"start","frame":"bounds","fontSize":18,"fontWeight":"bold","offset":0,"dx":-76,"dy":55},
  "layer":[
   {"mark":{"type":"bar"},"encoding":{
     "y":{"field":"c","type":"nominal","sort":null,"scale":{"type":"band","paddingInner":0,"paddingOuter":0},"axis":{"orient":"right","title":null,"labels":false,"ticks":false,"domainDash":[2,2],"domainColor":"#333333","offset":14}},
     "yOffset":{"field":"g","type":"nominal","sort":["AMD","FMD"],"scale":{"paddingInner":0,"paddingOuter":0.2}},
     "x":{"field":"v","type":"quantitative","stack":null,"scale":{"domain":[-1200000,1200000],"nice":false},"axis":{"title":"Late spring (T1)","values":[-1200000,-900000,-600000,-300000,0,300000,600000,900000,1200000],"tickCount":40,"labelExpr":"datum.value == 0 ? '0' : (abs(datum.value) == 1200000 ? '1.2×10⁶' : (abs(datum.value)/100000) + '×10⁵')","offset":3,"tickSize":4,"labelOverlap":false,"labelFlush":false}},
     "color":{"field":"g","type":"nominal","scale":{"domain":["FMD","AMD"],"range":["#e84b4b","#000000"]},"legend":{"orient":"top-left","title":null,"offset":20,"symbolType":"M-1,-0.45H1V0.45H-1Z","symbolSize":100,"labelFontSize":8.5,"rowPadding":6,"labelOffset":6,"padding":0}}}},
   {"mark":{"type":"rule","strokeWidth":0.8},"encoding":{"y":{"field":"c","type":"nominal","sort":null},"yOffset":{"field":"g","type":"nominal","sort":["AMD","FMD"]},"x":{"field":"lo","type":"quantitative"},"x2":{"field":"hi"},"color":{"condition":{"test":"datum.g=='FMD'","value":"#f28b8b"},"value":"#000000"}}},
   {"mark":{"type":"tick","thickness":0.8,"size":5},"encoding":{"y":{"field":"c","type":"nominal","sort":null},"yOffset":{"field":"g","type":"nominal","sort":["AMD","FMD"]},"x":{"field":"lo","type":"quantitative"},"color":{"condition":{"test":"datum.g=='FMD'","value":"#f28b8b"},"value":"#000000"}}},
   {"mark":{"type":"tick","thickness":0.8,"size":5},"encoding":{"y":{"field":"c","type":"nominal","sort":null},"yOffset":{"field":"g","type":"nominal","sort":["AMD","FMD"]},"x":{"field":"hi","type":"quantitative"},"color":{"condition":{"test":"datum.g=='FMD'","value":"#f28b8b"},"value":"#000000"}}},
   {"data":{"values":[{}]},"mark":{"type":"rule","color":"#ffffff","strokeWidth":4},"encoding":{"x":{"datum":0,"type":"quantitative"}}},
   {"data":{"values":[{}]},"mark":{"type":"rule","color":"#222222","strokeWidth":1.5},"encoding":{"x":{"datum":0,"type":"quantitative"}}},
   {"transform":[{"filter":"datum.g=='AMD' && datum.s=='J'"}],"mark":{"type":"text","text":"[","fontSize":17,"align":"right","dx":-1},"encoding":{"y":{"field":"c","type":"nominal","sort":null},"x":{"field":"bx","type":"quantitative"}}},
   {"transform":[{"filter":"datum.g=='AMD' && datum.s=='J'"}],"mark":{"type":"text","fontSize":8.5,"align":"right","dx":-6},"encoding":{"y":{"field":"c","type":"nominal","sort":null},"x":{"field":"bx","type":"quantitative"},"text":{"field":"sig"}}},
   {"transform":[{"filter":"datum.g=='AMD' && datum.s=='A'"}],"mark":{"type":"text","text":"]","fontSize":17,"align":"left","dx":1},"encoding":{"y":{"field":"c","type":"nominal","sort":null},"x":{"field":"bx","type":"quantitative"}}},
   {"transform":[{"filter":"datum.g=='AMD' && datum.s=='A'"}],"mark":{"type":"text","fontSize":8.5,"align":"left","dx":6},"encoding":{"y":{"field":"c","type":"nominal","sort":null},"x":{"field":"bx","type":"quantitative"},"text":{"field":"sig"}}},
   {"transform":[{"filter":"datum.c=='Infectious disease: parasitic' && datum.g=='AMD' && datum.s=='J'"}],"mark":{"type":"text","text":"Juveniles","fontSize":8.5},"encoding":{"y":{"field":"c","type":"nominal","sort":null},"x":{"datum":-830000,"type":"quantitative"}}},
   {"transform":[{"filter":"datum.c=='Infectious disease: parasitic' && datum.g=='AMD' && datum.s=='J'"}],"mark":{"type":"text","text":"Adults","fontSize":8.5},"encoding":{"y":{"field":"c","type":"nominal","sort":null},"x":{"datum":830000,"type":"quantitative"}}}
  ]},
 {"width":205,"height":211,"data":{"name":"e"},
  "transform":[
   {"filter":"datum.t=='T2'"},
   {"fold":["AMD","FMD"],"as":["g","v"]},
   {"calculate":"datum.g=='AMD' ? datum.ea : datum.ef","as":"err"},
   {"calculate":"datum.v - datum.err","as":"lo"},
   {"calculate":"datum.v + datum.err","as":"hi"},
   {"calculate":"abs(datum.v) + datum.err","as":"ae"},
   {"joinaggregate":[{"op":"max","field":"ae","as":"ext"}],"groupby":["c","s"]},
   {"calculate":"datum.s=='J' ? -datum.ext : datum.ext","as":"bx"}
  ],
  "layer":[
   {"mark":{"type":"bar"},"encoding":{
     "y":{"field":"c","type":"nominal","sort":null,"scale":{"type":"band","paddingInner":0,"paddingOuter":0},"axis":{"orient":"right","title":null,"offset":7,"tickSize":5,"labelPadding":3,"labelFontSize":8.5,"domainColor":"#777777","tickColor":"#777777"}},
     "yOffset":{"field":"g","type":"nominal","sort":["AMD","FMD"],"scale":{"paddingInner":0,"paddingOuter":0.2}},
     "x":{"field":"v","type":"quantitative","stack":null,"scale":{"domain":[-1200000,1200000],"nice":false},"axis":{"title":"Winter (T2)","values":[-1200000,-900000,-600000,-300000,0,300000,600000,900000,1200000],"tickCount":40,"labelExpr":"datum.value == 0 ? '0' : (abs(datum.value) == 1200000 ? '1.2×10⁶' : (abs(datum.value)/100000) + '×10⁵')","offset":3,"tickSize":4,"labelOverlap":false,"labelFlush":false}},
     "color":{"condition":{"test":"datum.g=='FMD'","value":"#e84b4b"},"value":"#000000"}}},
   {"mark":{"type":"rule","strokeWidth":0.8},"encoding":{"y":{"field":"c","type":"nominal","sort":null},"yOffset":{"field":"g","type":"nominal","sort":["AMD","FMD"]},"x":{"field":"lo","type":"quantitative"},"x2":{"field":"hi"},"color":{"condition":{"test":"datum.g=='FMD'","value":"#f28b8b"},"value":"#000000"}}},
   {"mark":{"type":"tick","thickness":0.8,"size":5},"encoding":{"y":{"field":"c","type":"nominal","sort":null},"yOffset":{"field":"g","type":"nominal","sort":["AMD","FMD"]},"x":{"field":"lo","type":"quantitative"},"color":{"condition":{"test":"datum.g=='FMD'","value":"#f28b8b"},"value":"#000000"}}},
   {"mark":{"type":"tick","thickness":0.8,"size":5},"encoding":{"y":{"field":"c","type":"nominal","sort":null},"yOffset":{"field":"g","type":"nominal","sort":["AMD","FMD"]},"x":{"field":"hi","type":"quantitative"},"color":{"condition":{"test":"datum.g=='FMD'","value":"#f28b8b"},"value":"#000000"}}},
   {"data":{"values":[{}]},"mark":{"type":"rule","color":"#ffffff","strokeWidth":5},"encoding":{"x":{"datum":0,"type":"quantitative"}}},
   {"data":{"values":[{}]},"mark":{"type":"rule","color":"#8c8c8c","strokeWidth":2.5},"encoding":{"x":{"datum":0,"type":"quantitative"}}},
   {"transform":[{"filter":"datum.g=='AMD' && datum.s=='J'"}],"mark":{"type":"text","text":"[","fontSize":17,"align":"right","dx":-1},"encoding":{"y":{"field":"c","type":"nominal","sort":null},"x":{"field":"bx","type":"quantitative"}}},
   {"transform":[{"filter":"datum.g=='AMD' && datum.s=='J'"}],"mark":{"type":"text","fontSize":8.5,"align":"right","dx":-6},"encoding":{"y":{"field":"c","type":"nominal","sort":null},"x":{"field":"bx","type":"quantitative"},"text":{"field":"sig"}}},
   {"transform":[{"filter":"datum.g=='AMD' && datum.s=='A'"}],"mark":{"type":"text","text":"]","fontSize":17,"align":"left","dx":1},"encoding":{"y":{"field":"c","type":"nominal","sort":null},"x":{"field":"bx","type":"quantitative"}}},
   {"transform":[{"filter":"datum.g=='AMD' && datum.s=='A'"}],"mark":{"type":"text","fontSize":8.5,"align":"left","dx":6},"encoding":{"y":{"field":"c","type":"nominal","sort":null},"x":{"field":"bx","type":"quantitative"},"text":{"field":"sig"}}},
   {"transform":[{"filter":"datum.c=='Infectious disease: parasitic' && datum.g=='AMD' && datum.s=='J'"}],"mark":{"type":"text","text":"Juveniles","fontSize":8.5},"encoding":{"y":{"field":"c","type":"nominal","sort":null},"x":{"datum":-830000,"type":"quantitative"}}},
   {"transform":[{"filter":"datum.c=='Infectious disease: parasitic' && datum.g=='AMD' && datum.s=='J'"}],"mark":{"type":"text","text":"Adults","fontSize":8.5},"encoding":{"y":{"field":"c","type":"nominal","sort":null},"x":{"datum":830000,"type":"quantitative"}}}
  ]}
 ]}
]
}
